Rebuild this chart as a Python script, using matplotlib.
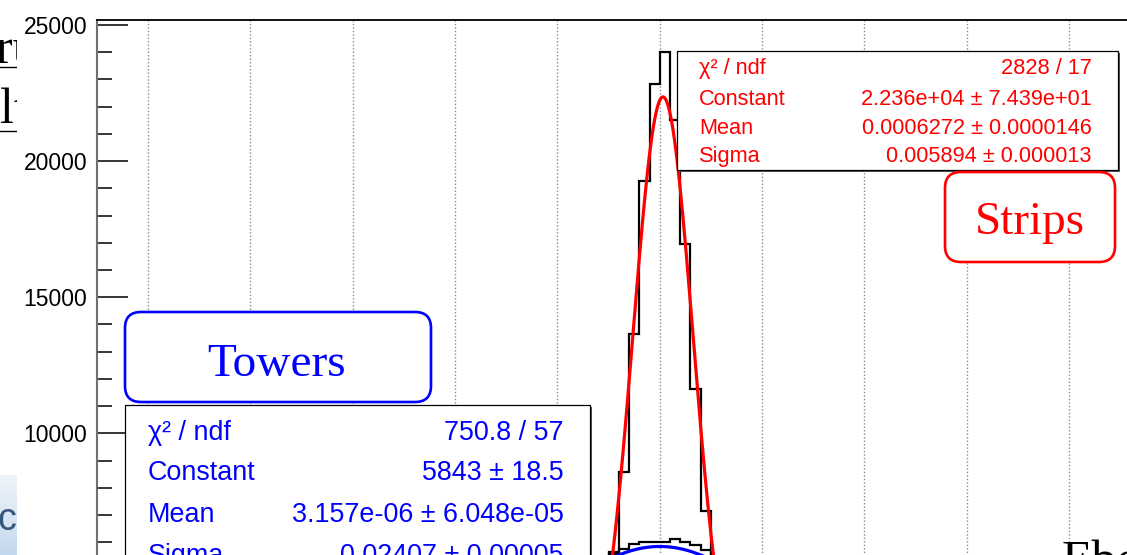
import numpy as np
import matplotlib.pyplot as plt
from matplotlib.patches import Rectangle, FancyBboxPatch
from matplotlib.ticker import MultipleLocator, FixedLocator

plt.rcParams['font.family'] = ['Liberation Sans', 'DejaVu Sans']

W, H, DPI = 1127, 555, 100

# bin edges (width 0.002) and bin contents
edges = np.round(np.arange(-0.012, 0.0121, 0.002), 4)
strips_counts = [2500, 5560, 8590, 13640, 19260, 22830, 24020, 21520, 16960, 11620, 7160, 3400]
towers_counts = [5450, 5650, 5760, 5930, 6020, 6020, 6020, 6100, 6020, 5900, 5710, 5450]

# gaussian fit results
strips_const, strips_mean, strips_sigma = 2.236e+04, 0.0006272, 0.005894
towers_const, towers_mean, towers_sigma = 5843, 3.157e-06, 0.02407

y_labels = [10000, 15000, 20000, 25000]
stat_names = ['χ² / ndf', 'Constant', 'Mean', 'Sigma']
strips_stats = ['2828 / 17', '2.236e+04 ± 7.439e+01', '0.0006272 ± 0.0000146', '0.005894 ± 0.000013']
towers_stats = ['750.8 / 57', '5843 ± 18.5', '3.157e-06 ± 6.048e-05', '0.02407 ± 0.00005']


def gaus(x, c, m, s):
    return c * np.exp(-0.5 * ((x - m) / s) ** 2)


def at(x, y):
    # pixel position (from top-left) -> inches for dpi_scale_trans
    return x / DPI, (H - y) / DPI


fig = plt.figure(figsize=(W / DPI, H / DPI), dpi=DPI)
tr = fig.dpi_scale_trans

# slide text sitting behind the canvas
fig.text(*at(-4, 64), 'ru', family='Liberation Serif', fontsize=36, zorder=0, transform=tr)
fig.text(*at(0, 123), 'lt', family='Liberation Serif', fontsize=36, zorder=0, transform=tr)
fig.add_artist(plt.Line2D([0, 0.17], [(H - 67) / DPI] * 2, color='black', lw=1, transform=tr, zorder=0))
fig.add_artist(plt.Line2D([0, 0.17], [(H - 131) / DPI] * 2, color='black', lw=1, transform=tr, zorder=0))
pan = fig.add_axes([0, 0, 17 / W, 80 / H], zorder=0)
pan.imshow(np.linspace(0, 1, 50)[:, None], cmap=plt.matplotlib.colors.LinearSegmentedColormap.from_list(
    'p', ['#eef4fa', '#c4d9ee']), aspect='auto', extent=[0, 1, 0, 1])
pan.axis('off')
fig.text(*at(-3, 530), 'ca', fontsize=27, color='#35557a', zorder=0.6, transform=tr)

# canvas
fig.add_artist(Rectangle(at(17, H), (W - 17) / DPI, H / DPI, fc='white', ec='none', transform=tr, zorder=1))

ax = fig.add_axes([97 / W, 1 - 705.5 / H, (1222.5 - 97) / W, (705.5 - 20) / H], zorder=2)
ax.stairs(towers_counts, edges, color='black', lw=1.6)
ax.stairs(strips_counts, edges, color='black', lw=1.6)
xt = np.linspace(-0.06, 0.06, 600)
ax.plot(xt, gaus(xt, towers_const, towers_mean, towers_sigma), color='blue', lw=2.3)
xs = np.linspace(-0.02, 0.02, 400)
ax.plot(xs, gaus(xs, strips_const, strips_mean, strips_sigma), color='red', lw=2.3)

ax.set_xlim(-0.11, 0.11)
ax.set_ylim(0, 25184)
ax.xaxis.set_major_locator(MultipleLocator(0.02))
ax.tick_params(axis='x', which='both', bottom=False, labelbottom=False)
ax.yaxis.set_major_locator(FixedLocator(y_labels))
ax.yaxis.set_minor_locator(MultipleLocator(1000))
ax.tick_params(axis='y', which='major', direction='in', length=22, width=1.1, labelsize=16.5, pad=7)
ax.tick_params(axis='y', which='minor', direction='in', length=11, width=1.1)
ax.grid(axis='x', color='#8c8c8c', linestyle=(0, (1, 1.5)), linewidth=1)
ax.set_axisbelow(True)
ax.spines['top'].set_linewidth(1.3)
ax.spines['left'].set_color('#707070')
ax.spines['left'].set_linewidth(1.5)


def stats_box(x0, y0, x1, y1, color, lx, rx, baselines, values, size):
    fig.add_artist(Rectangle(at(x0 + 2, y1 + 2), (x1 - x0) / DPI, (y1 - y0) / DPI,
                             fc='#555555', ec='none', transform=tr, zorder=3))
    fig.add_artist(Rectangle(at(x0, y1), (x1 - x0) / DPI, (y1 - y0) / DPI,
                             fc='white', ec='black', lw=0.9, transform=tr, zorder=4))
    for name, val, yb in zip(stat_names, values, baselines):
        fig.text(*at(lx, yb), name, color=color, fontsize=size, va='baseline', transform=tr, zorder=5)
        fig.text(*at(rx, yb), val, color=color, fontsize=size, va='baseline', ha='right',
                 transform=tr, zorder=5)


def label_box(x0, y0, x1, y1, color, text, xc, yb):
    fig.add_artist(FancyBboxPatch(at(x0, y1), (x1 - x0) / DPI, (y1 - y0) / DPI,
                                  boxstyle='round,pad=0,rounding_size=0.16', fc='white', ec=color,
                                  lw=1.9, transform=tr, zorder=4))
    fig.text(*at(xc, yb), text, color=color, family='Liberation Serif', fontsize=34,
             ha='center', va='baseline', transform=tr, zorder=5)


stats_box(677, 51, 1118, 170, 'red', 699, 1092, [74, 105, 134.5, 162], strips_stats, 15.7)
stats_box(125, 405, 590, 620, 'blue', 148, 564, [440, 480, 522, 563], towers_stats, 19.4)
label_box(125, 312, 431, 402, 'blue', 'Towers', 277, 376)
label_box(945, 172, 1115, 262, 'red', 'Strips', 1030, 234)

fig.text(*at(1062, 576), 'Ebeam', family='Liberation Serif', fontsize=36, transform=tr, zorder=10)

fig.savefig('out.png', dpi=DPI)
